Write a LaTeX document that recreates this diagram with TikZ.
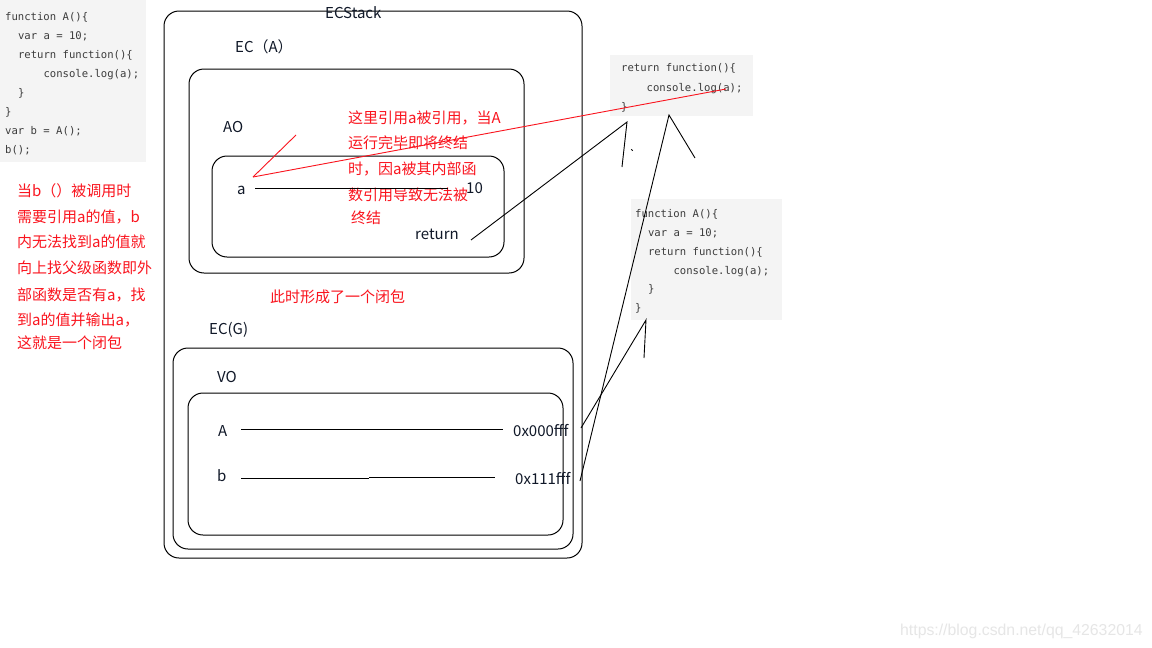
\documentclass[tikz,border=0pt]{standalone}
\usepackage{fontspec}
\setmainfont{Noto Sans CJK SC}
\newfontfamily\codefont{DejaVu Sans Mono}
\newfontfamily\wmfont{Liberation Sans}
\definecolor{navy}{RGB}{16,24,40}
\definecolor{cred}{RGB}{250,20,30}
\definecolor{codec}{RGB}{60,60,60}
\definecolor{codebg}{RGB}{244,244,244}
\definecolor{wmc}{RGB}{230,230,230}
\begin{document}
\begin{tikzpicture}[x=1pt,y=-1pt,
  lbl/.style={anchor=base west, inner sep=0pt, font=\fontsize{15}{18}\selectfont, text=navy},
  rtxt/.style={lbl, text=cred},
  code/.style={anchor=base west, inner sep=0pt, font=\codefont\fontsize{10.6}{12}\selectfont, text=codec},
  box/.style={draw=black, line width=1pt, rounded corners=15pt},
  wire/.style={draw=black, line width=0.9pt},
  rwire/.style={draw=cred, line width=0.9pt}]
\useasboundingbox[fill=white] (0,0) rectangle (1152,648);

% code panels
\fill[codebg] (0,0) rectangle (146,162);
\fill[codebg] (610,55) rectangle (753,116);
\fill[codebg] (631,199) rectangle (782,320);

\node[code] (c1) at (5,20.5) {function A()\{};
\node[code] (c2) at (17.8,39.5) {var a = 10;};
\node[code] (c3) at (17.8,58.5) {return function()\{};
\node[code] (c4) at (43.3,77.5) {console.log(a);};
\node[code] (c5) at (17.8,96.5) {\}};
\node[code] (c6) at (5,115.5) {\}};
\node[code] (c7) at (5,134.5) {var b = A();};
\node[code] (c8) at (5,153.5) {b();};

\node[code] (d1) at (621,71.5) {return function()\{};
\node[code] (d2) at (646.5,91) {console.log(a);};
\node[code] (d3) at (621,110) {\}};

\node[code] (e1) at (635,217.5) {function A()\{};
\node[code] (e2) at (647.8,236.5) {var a = 10;};
\node[code] (e3) at (647.8,255.5) {return function()\{};
\node[code] (e4) at (673.3,274.5) {console.log(a);};
\node[code] (e5) at (647.8,292.5) {\}};
\node[code] (e6) at (635,311) {\}};

% left note
\node[rtxt] (n1) at (17,196.7) {当b（）被调用时};
\node[rtxt] (n2) at (17,222.7) {需要引用a的值，b};
\node[rtxt] (n3) at (17,247.7) {内无法找到a的值就};
\node[rtxt] (n4) at (17,273.7) {向上找父级函数即外};
\node[rtxt] (n5) at (17,300.7) {部函数是否有a，找};
\node[rtxt] (n6) at (17,325.7) {到a的值并输出a，};
\node[rtxt] (n7) at (17,348.7) {这就是一个闭包};

% boxes
\draw[box] (164,11) rectangle (582,558);
\draw[box] (189,69) rectangle (524,273);
\draw[box] (212,156) rectangle (504,257);
\draw[box] (173,348) rectangle (573,549);
\draw[box] (188,393) rectangle (563,535);

% labels
\node[lbl] (ecs) at (325,18.5) {ECStack};
\node[lbl] (eca) at (235,52.5) {EC（A）};
\node[lbl] (ao) at (223,132.5) {AO};
\node[lbl] (va) at (237,194) {a};
\node[lbl] (v10) at (466,193.5) {10};
\node[lbl] (ret) at (415,239.5) {return};
\node[lbl] (ecg) at (209,334.5) {EC(G)};
\node[lbl] (vo) at (217,382.5) {VO};
\node[lbl] (vA) at (218,436.5) {A};
\node[lbl] (addrA) at (513,436.5) {0x000fff};
\node[lbl] (vb) at (217,481.5) {b};
\node[lbl] (addrb) at (515,484.5) {0x111fff};

\node[rtxt] (m1) at (348,123.7) {这里引用a被引用，当A};
\node[rtxt] (m2) at (348,148.7) {运行完毕即将终结};
\node[rtxt] (m3) at (348,174.7) {时，因a被其内部函};
\node[rtxt] (m4) at (348,200.7) {数引用导致无法被};
\node[rtxt] (m5) at (351,223.7) {终结};
\node[rtxt] (cl) at (270,302.5) {此时形成了一个闭包};

\node[anchor=base west, inner sep=0pt, font=\wmfont\fontsize{15.8}{18}\selectfont, text=wmc] (wm) at (900,635.5) {https://blog.csdn.net/qq\_42632014};

% coordinates
\coordinate (aS) at (255,188);
\coordinate (aE) at (448,188);
\coordinate (AS) at (241,429);
\coordinate (AE) at (503,429);
\coordinate (bS) at (241,478);
\coordinate (bM) at (369,478);
\coordinate (bM2) at (369,477);
\coordinate (bE) at (495,477);
\coordinate (rS) at (471,240);
\coordinate (rP) at (627,122);
\coordinate (rT) at (622,167);
\coordinate (dotA) at (631.3,149.3);
\coordinate (dotB) at (632.7,150.7);
\coordinate (lS) at (580,481);
\coordinate (lP) at (669,115);
\coordinate (lT) at (695,158);
\coordinate (kS) at (581,428);
\coordinate (kP) at (646,320);
\coordinate (kT) at (644,358);
\coordinate (redS) at (253,177);
\coordinate (redE) at (726,89);
\coordinate (redT) at (296,135);

% connectors
\draw[wire] (aS) -- (aE);
\draw[wire] (AS) -- (AE);
\draw[wire] (bS) -- (bM);
\draw[wire] (bM2) -- (bE);
\draw[wire] (rS) -- (rP) -- (rT);
\draw[wire] (dotA) -- (dotB);
\draw[wire] (lS) -- (lP) -- (lT);
\draw[wire] (kS) -- (kP) -- (kT);
\draw[rwire] (redS) -- (redE);
\draw[rwire] (redS) -- (redT);
\end{tikzpicture}
\end{document}
